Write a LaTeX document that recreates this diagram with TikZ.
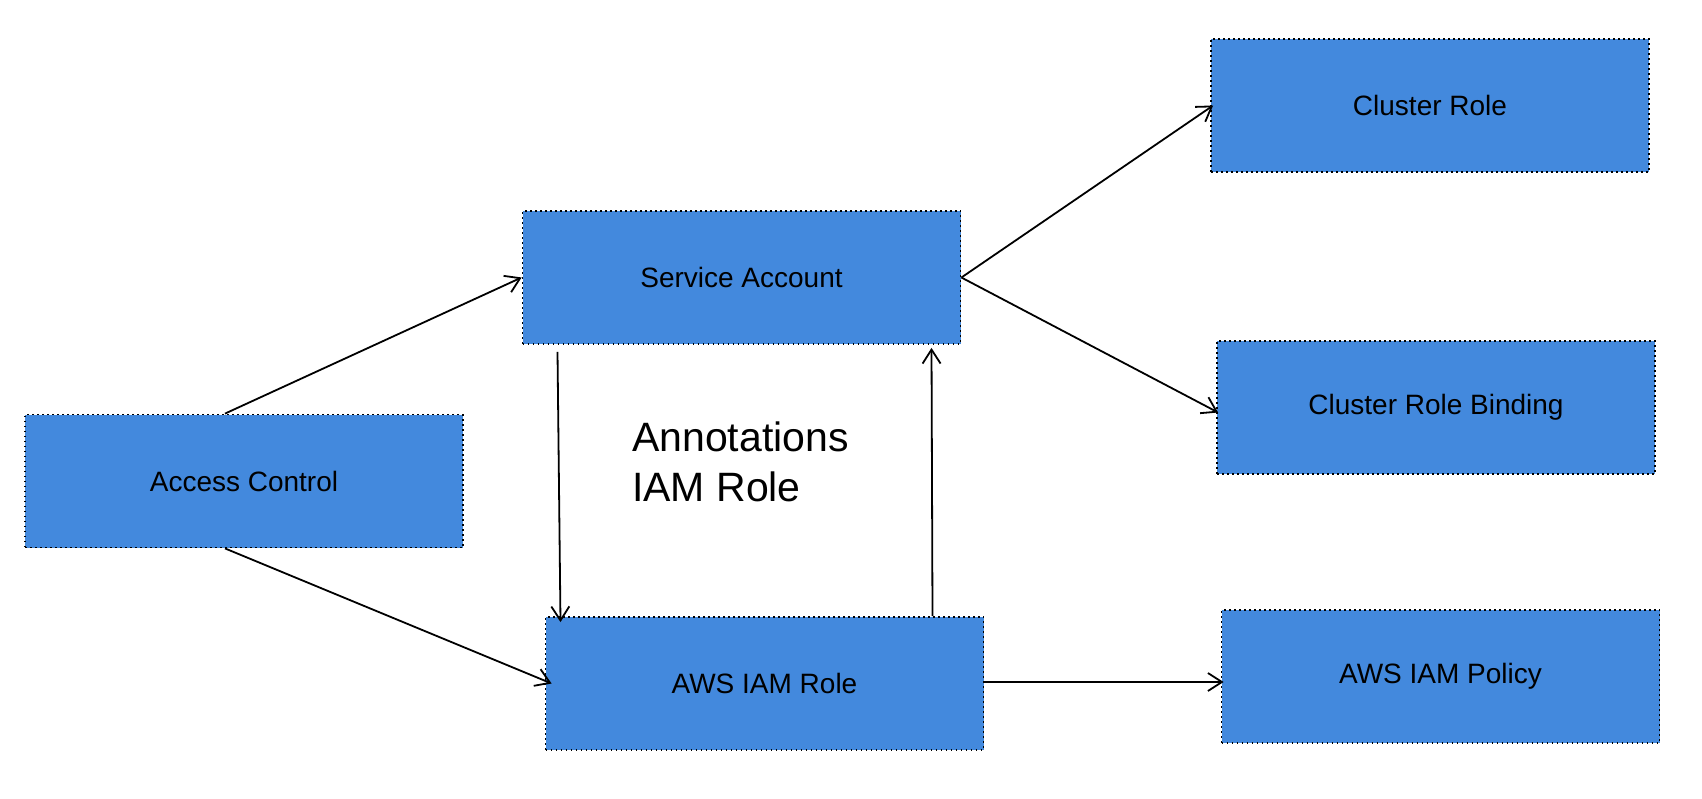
\documentclass[tikz,border=0pt]{standalone}
\usepackage{fontspec}
\setmainfont{Liberation Sans}
\usetikzlibrary{arrows.meta}
\definecolor{boxblue}{HTML}{4389DD}
\begin{document}
\begin{tikzpicture}[x=1pt,y=-1pt,
  bx/.style={draw=black,fill=boxblue,line width=1.8pt,dash pattern=on 1.6pt off 3.4pt,minimum width=438pt,minimum height=133pt,inner sep=0pt,font=\fontsize{28}{34}\selectfont},
  ar/.style={line width=1.8pt,-{Straight Barb[length=14pt,width=18pt]}}]
\useasboundingbox (0,0) rectangle (1702,798);
\node[bx] (ac) at (244,481) {Access Control};
\node[bx] (sa) at (741.5,277.5) {Service Account};
\node[bx] (iam) at (764.5,683.5) {AWS IAM Role};
\node[bx] (cr) at (1430,105.5) {Cluster Role};
\node[bx] (crb) at (1436,407.5) {Cluster Role Binding};
\node[bx] (pol) at (1440.5,676.5) {AWS IAM Policy};
\node[anchor=north west,align=left,inner sep=0pt,font=\fontsize{41}{50}\selectfont] (ann) at (632,422) {Annotations\\IAM Role};
\draw[ar] ([xshift=-19pt]ac.north) -- (sa.west);
\draw[ar] ([xshift=-19pt]ac.south) -- ([xshift=7pt]iam.west);
\draw[ar] ([xshift=-184pt,yshift=-7pt]sa.south) -- ([xshift=-204pt,yshift=-6pt]iam.north);
\draw[ar] ([xshift=168pt]iam.north) -- ([xshift=190pt,yshift=-3pt]sa.south);
\draw[ar] (sa.east) -- ([xshift=3pt]cr.west);
\draw[ar] (sa.east) -- ([xshift=2pt,yshift=-5pt]crb.west);
\draw[ar] ([yshift=1.5pt]iam.east) -- ([xshift=3pt,yshift=-5.5pt]pol.west);
\end{tikzpicture}
\end{document}
